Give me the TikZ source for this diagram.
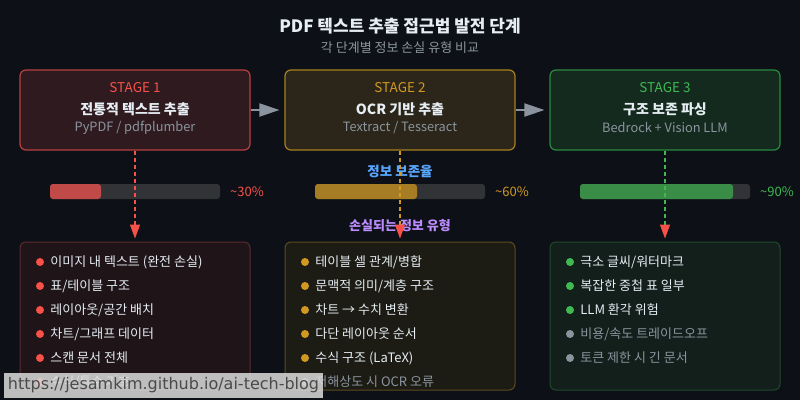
\documentclass[tikz,border=0pt]{standalone}
\usepackage{fontspec}
\setmainfont{Noto Sans CJK KR}
\newfontfamily\wmfont{DejaVu Sans}
\usetikzlibrary{arrows.meta,positioning}

\definecolor{bgdark}{HTML}{0D1117}
\definecolor{txtwhite}{HTML}{E6EDF3}
\definecolor{txtgray}{HTML}{8B949E}
\definecolor{stred}{HTML}{F85149}
\definecolor{stgold}{HTML}{D29922}
\definecolor{stgreen}{HTML}{3FB950}
\definecolor{lblblue}{HTML}{58A6FF}
\definecolor{lblpurple}{HTML}{BC8CFF}
\definecolor{fillred}{HTML}{2F1B1F}
\definecolor{fillgold}{HTML}{2B2619}
\definecolor{fillgreen}{HTML}{142A1F}
\definecolor{lowred}{HTML}{1F1518}
\definecolor{lowgold}{HTML}{1C1B14}
\definecolor{lowgreen}{HTML}{131F1B}
\definecolor{edgered}{HTML}{B8403F}
\definecolor{edgegold}{HTML}{A7801F}
\definecolor{edgegreen}{HTML}{2A8A3E}
\definecolor{dimred}{HTML}{5C2A2E}
\definecolor{dimgold}{HTML}{5A4A1E}
\definecolor{dimgreen}{HTML}{1F4A2A}
\definecolor{barred}{HTML}{C04A48}
\definecolor{bargold}{HTML}{A67D24}
\definecolor{bargreen}{HTML}{3A8D46}
\definecolor{bartrack}{HTML}{323336}
\definecolor{wmgray}{HTML}{DCDCDC}
\definecolor{wmtext}{HTML}{4A4A4A}

\tikzset{
  stagebox/.style={draw, line width=1.2pt, rounded corners=6pt,
    minimum width=230pt, minimum height=80pt, inner sep=0pt},
  lossbox/.style={draw, line width=1pt, rounded corners=6pt,
    minimum width=230pt, minimum height=148pt, inner sep=0pt},
  stagetag/.style={inner sep=0pt, font=\fontsize{13.5}{15}\selectfont},
  stagename/.style={inner sep=0pt, text=txtwhite, font=\fontsize{14}{16}\bfseries\selectfont},
  stagetool/.style={inner sep=0pt, text=txtgray, font=\fontsize{12.8}{14}\selectfont},
  dot/.style={circle, fill=#1, inner sep=0pt, minimum size=8pt},
  itemtxt/.style={inner sep=0pt, anchor=west, text=txtwhite, font=\fontsize{13}{15}\selectfont},
  pct/.style={inner sep=0pt, anchor=west, font=\fontsize{13}{15}\selectfont},
  flowarrow/.style={draw=txtgray, line width=2pt, shorten >=5pt,
    -{Triangle[length=20pt,width=13pt]}},
  dropline/.style={draw=#1, line width=1.2pt, dash pattern=on 4pt off 3pt,
    shorten >=3pt, -{Triangle[length=14pt,width=10pt,color=stred]}}
}

\begin{document}
\begin{tikzpicture}[x=1pt,y=-1pt]
    % background
    \fill[bgdark] (0,0) rectangle (800,400);

    % title
    \node[inner sep=0pt, text=txtwhite, font=\fontsize{17}{20}\bfseries\selectfont] (title) at (400,26.5) {PDF 텍스트 추출 접근법 발전 단계};
    \node[inner sep=0pt, text=txtgray, font=\fontsize{13}{15}\selectfont] (subtitle) at (400,47.5) {각 단계별 정보 손실 유형 비교};

    % stage boxes
    \node[stagebox, draw=edgered, fill=fillred] (s1) at (135,110) {};
    \node[stagebox, draw=edgegold, fill=fillgold] (s2) at (400,110) {};
    \node[stagebox, draw=edgegreen, fill=fillgreen] (s3) at (665,110) {};

    \node[stagetag, text=stred] (tag1) at (135,88) {STAGE 1};
    \node[stagename] (name1) at (135,109) {전통적 텍스트 추출};
    \node[stagetool] (tool1) at (135,127.5) {PyPDF / pdfplumber};

    \node[stagetag, text=stgold] (tag2) at (400,88) {STAGE 2};
    \node[stagename] (name2) at (400,109) {OCR 기반 추출};
    \node[stagetool] (tool2) at (400,127.5) {Textract / Tesseract};

    \node[stagetag, text=stgreen] (tag3) at (665,88) {STAGE 3};
    \node[stagename] (name3) at (665,109) {구조 보존 파싱};
    \node[stagetool] (tool3) at (665,127.5) {Bedrock + Vision LLM};

    \draw[flowarrow] (s1.east) -- (s2.west);
    \draw[flowarrow] (s2.east) -- (s3.west);

    % retention bars
    \node[inner sep=0pt, text=lblblue, font=\fontsize{13.5}{15}\bfseries\selectfont] (keep) at (400,171) {정보 보존율};

    \fill[bartrack, rounded corners=3pt] (50,184) rectangle (220,199);
    \fill[barred, rounded corners=3pt] (50,184) rectangle (101,199);
    \node[pct, text=stred] (p1) at (230,191.5) {\textasciitilde30\%};

    \fill[bartrack, rounded corners=3pt] (315,184) rectangle (485,199);
    \fill[bargold, rounded corners=3pt] (315,184) rectangle (417,199);
    \node[pct, text=stgold] (p2) at (495,191.5) {\textasciitilde60\%};

    \fill[bartrack, rounded corners=3pt] (580,184) rectangle (750,199);
    \fill[bargreen, rounded corners=3pt] (580,184) rectangle (733,199);
    \node[pct, text=stgreen] (p3) at (760,191.5) {\textasciitilde90\%};

    \node[inner sep=0pt, text=lblpurple, font=\fontsize{13}{15}\bfseries\selectfont] (lost) at (400,226) {손실되는 정보 유형};

    % loss boxes
    \node[lossbox, draw=dimred, fill=lowred] (l1) at (135,316) {};
    \node[lossbox, draw=dimgold, fill=lowgold] (l2) at (400,316) {};
    \node[lossbox, draw=dimgreen, fill=lowgreen] (l3) at (665,316) {};

    % stage 1 losses
    \node[dot=stred] (d11) at (40,262) {};
    \node[itemtxt, right=6pt of d11] (i11) {이미지 내 텍스트 (완전 손실)};
    \node[dot=stred] (d12) at (40,286) {};
    \node[itemtxt, right=6pt of d12] (i12) {표/테이블 구조};
    \node[dot=stred] (d13) at (40,310) {};
    \node[itemtxt, right=6pt of d13] (i13) {레이아웃/공간 배치};
    \node[dot=stred] (d14) at (40,334) {};
    \node[itemtxt, right=6pt of d14] (i14) {차트/그래프 데이터};
    \node[dot=stred] (d15) at (40,358) {};
    \node[itemtxt, right=6pt of d15] (i15) {스캔 문서 전체};
    \node[dot=stred] (d16) at (40,382) {};
    \node[itemtxt, right=6pt of d16] (i16) {수식/특수 기호};

    % stage 2 losses
    \node[dot=stgold] (d21) at (305,262) {};
    \node[itemtxt, right=6pt of d21] (i21) {테이블 셀 관계/병합};
    \node[dot=stgold] (d22) at (305,286) {};
    \node[itemtxt, right=6pt of d22] (i22) {문맥적 의미/계층 구조};
    \node[dot=stgold] (d23) at (305,310) {};
    \node[itemtxt, right=6pt of d23] (i23) {차트 → 수치 변환};
    \node[dot=stgold] (d24) at (305,334) {};
    \node[itemtxt, right=6pt of d24] (i24) {다단 레이아웃 순서};
    \node[dot=stgold] (d25) at (305,358) {};
    \node[itemtxt, right=6pt of d25] (i25) {수식 구조 (LaTeX)};
    \node[dot=txtgray] (d26) at (305,382) {};
    \node[itemtxt, text=txtgray, right=6pt of d26] (i26) {저해상도 시 OCR 오류};

    % stage 3 losses
    \node[dot=stgreen] (d31) at (570,262) {};
    \node[itemtxt, right=6pt of d31] (i31) {극소 글씨/워터마크};
    \node[dot=stgreen] (d32) at (570,286) {};
    \node[itemtxt, right=6pt of d32] (i32) {복잡한 중첩 표 일부};
    \node[dot=stgreen] (d33) at (570,310) {};
    \node[itemtxt, right=6pt of d33] (i33) {LLM 환각 위험};
    \node[dot=txtgray] (d34) at (570,334) {};
    \node[itemtxt, text=txtgray, right=6pt of d34] (i34) {비용/속도 트레이드오프};
    \node[dot=txtgray] (d35) at (570,358) {};
    \node[itemtxt, text=txtgray, right=6pt of d35] (i35) {토큰 제한 시 긴 문서};

    % drop lines
    \draw[dropline=stred] (s1.south) -- (l1.north);
    \draw[dropline=stgold] (s2.south) -- (l2.north);
    \draw[dropline=stgreen] (s3.south) -- (l3.north);

    % watermark
    \node[fill=wmgray, fill opacity=0.85, text opacity=1, text=wmtext, inner sep=0pt,
      minimum width=319pt, minimum height=25pt, font=\wmfont\fontsize{16}{18}\selectfont] (wm) at (163.5,385.5) {https://jesamkim.github.io/ai-tech-blog};
\end{tikzpicture}
\end{document}
